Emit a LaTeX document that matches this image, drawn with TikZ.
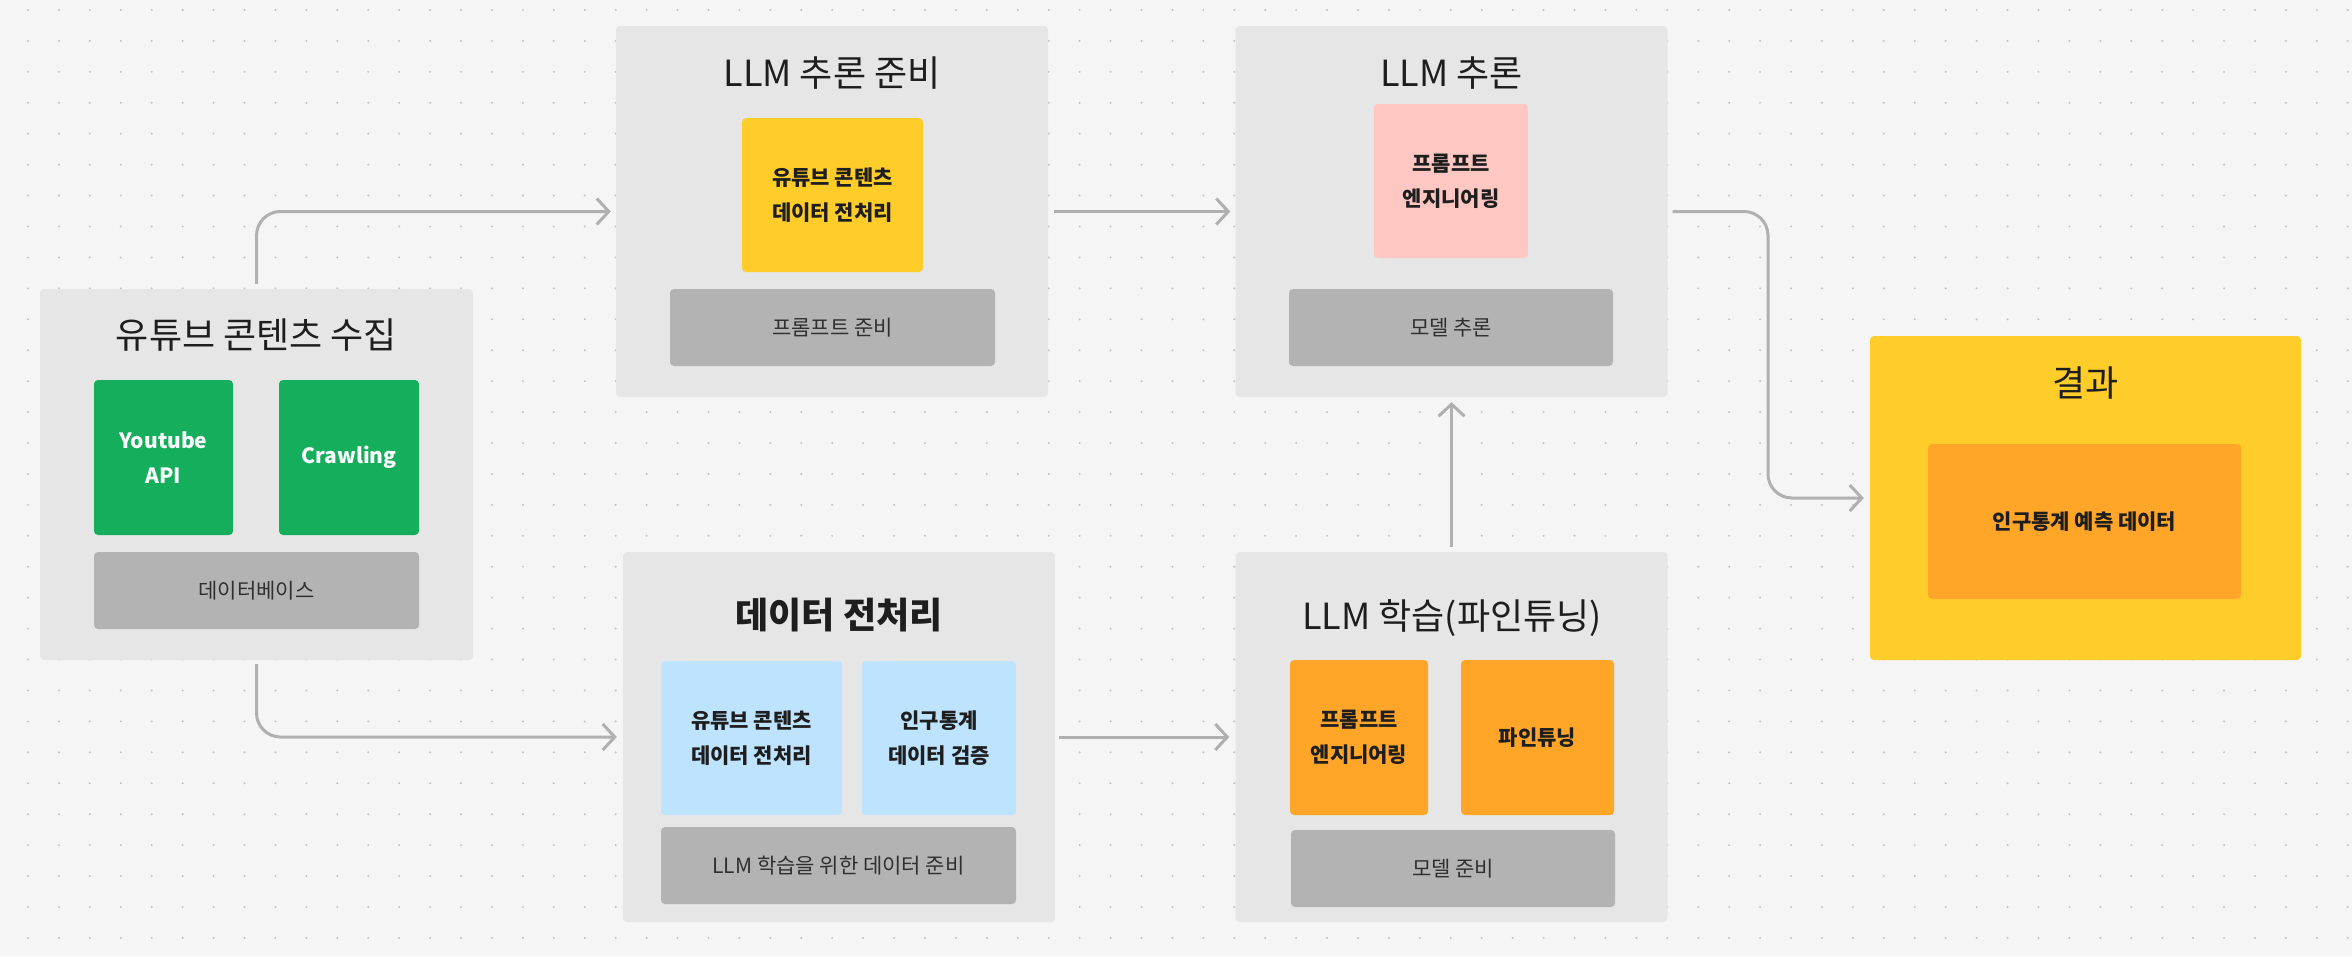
\documentclass[tikz,border=0pt]{standalone}
\usepackage{fontspec}
\setmainfont{Noto Sans CJK KR}
\usepackage{xcolor}
\usepackage{tikz}
\usetikzlibrary{arrows.meta}
\definecolor{canvas}{HTML}{F5F5F5}
\definecolor{dot}{HTML}{C2C2C2}
\definecolor{panel}{HTML}{E6E6E6}
\definecolor{base}{HTML}{B3B3B3}
\definecolor{wire}{HTML}{B0B0B0}
\definecolor{ink}{HTML}{1E1E1E}
\definecolor{leaf}{HTML}{14AE5C}
\definecolor{sun}{HTML}{FFCD29}
\definecolor{rose}{HTML}{FFC7C2}
\definecolor{sky}{HTML}{BDE3FF}
\definecolor{amber}{HTML}{FFA629}
\tikzset{
  flowGroup/.style={fill=panel, rounded corners=4pt, inner sep=0pt},
  flowCard/.style={rounded corners=4pt, inner sep=0pt, align=center, text=ink, font=\fontsize{21}{35}\selectfont\bfseries},
  flowBase/.style={fill=base, rounded corners=4pt, inner sep=0pt, text=ink!92, font=\fontsize{21}{26}\selectfont},
  flowTitle/.style={text=ink, font=\fontsize{36}{44}\selectfont},
  flowArrow/.style={draw=wire, line width=3pt, rounded corners=24pt, -{Straight Barb[length=12pt,width=26pt]}}
}

\begin{document}
\begin{tikzpicture}[x=1pt, y=-1pt]
  \useasboundingbox (0,0) rectangle (2352,956);
  \fill[canvas] (0,0) rectangle (2352,956);
  \foreach \i in {0,...,75}
    \foreach \j in {0,...,30}
      \fill[dot] (28+30.93*\i, 10+30.93*\j) circle (1.1pt);

  \node[flowGroup, minimum width=433pt, minimum height=371pt] (collect) at (256.5,474.5) {};
  \node[flowTitle] (collectTitle) at (256.5,335) {유튜브 콘텐츠 수집};
  \node[flowCard, fill=leaf, text=white, minimum width=139pt, minimum height=155pt] (ytApi) at (163.5,457.5) {Youtube\\API};
  \node[flowCard, fill=leaf, text=white, minimum width=140pt, minimum height=155pt] (crawl) at (349,457.5) {Crawling};
  \node[flowBase, minimum width=325pt, minimum height=77pt] (dbase) at (256.5,590.5) {데이터베이스};

  \node[flowGroup, minimum width=432pt, minimum height=371pt] (prep) at (832,211.5) {};
  \node[flowTitle] (prepTitle) at (832,73) {LLM 추론 준비};
  \node[flowCard, fill=sun, minimum width=181pt, minimum height=154pt] (prepYt) at (832.5,195) {유튜브 콘텐츠\\데이터 전처리};
  \node[flowBase, minimum width=325pt, minimum height=77pt] (prepBase) at (832.5,327.5) {프롬프트 준비};

  \node[flowGroup, minimum width=432pt, minimum height=371pt] (infer) at (1451.5,211.5) {};
  \node[flowTitle] (inferTitle) at (1451.5,73) {LLM 추론};
  \node[flowCard, fill=rose, minimum width=154pt, minimum height=154pt] (inferPrompt) at (1451,181) {프롬프트\\엔지니어링};
  \node[flowBase, minimum width=324pt, minimum height=77pt] (inferBase) at (1451,327.5) {모델 추론};

  \node[flowGroup, minimum width=432pt, minimum height=370pt] (clean) at (839,737) {};
  \node[flowTitle, font=\fontsize{36}{44}\selectfont\bfseries] (cleanTitle) at (839,615) {데이터 전처리};
  \node[flowCard, fill=sky, minimum width=181pt, minimum height=154pt] (cleanYt) at (751.5,738) {유튜브 콘텐츠\\데이터 전처리};
  \node[flowCard, fill=sky, minimum width=154pt, minimum height=154pt] (cleanCensus) at (939,738) {인구통계\\데이터 검증};
  \node[flowBase, minimum width=355pt, minimum height=77pt] (cleanBase) at (838.5,865.5) {LLM 학습을 위한 데이터 준비};

  \node[flowGroup, minimum width=432pt, minimum height=370pt] (train) at (1451.5,737) {};
  \node[flowTitle] (trainTitle) at (1452,618) {LLM 학습(파인튜닝)};
  \node[flowCard, fill=amber, minimum width=138pt, minimum height=155pt] (trainPrompt) at (1359,737.5) {프롬프트\\엔지니어링};
  \node[flowCard, fill=amber, minimum width=153pt, minimum height=155pt] (trainTune) at (1537.5,737.5) {파인튜닝};
  \node[flowBase, minimum width=324pt, minimum height=77pt] (trainBase) at (1453,868.5) {모델 준비};

  \node[flowGroup, fill=sun, minimum width=431pt, minimum height=324pt] (result) at (2085.5,498) {};
  \node[flowTitle] (resultTitle) at (2085.5,383) {결과};
  \node[flowCard, fill=amber, minimum width=313pt, minimum height=155pt] (resultData) at (2084.5,521.5) {인구통계 예측 데이터};

  \coordinate (turn) at (1768,211.5);
  \draw[flowArrow] ([yshift=5pt]collect.north) |- ([xshift=-5pt]prep.west);
  \draw[flowArrow] ([yshift=-4pt]collect.south) |- ([xshift=-6pt]clean.west);
  \draw[flowArrow] ([xshift=6pt]prep.east) -- ([xshift=-5pt]infer.west);
  \draw[flowArrow] ([xshift=4pt]clean.east) -- ([xshift=-6pt]train.west);
  \draw[flowArrow] ([yshift=5pt]train.north) -- ([yshift=-5pt]infer.south);
  \draw[flowArrow] ([xshift=5pt]infer.east) -- (turn) |- ([xshift=-6pt]result.west);
\end{tikzpicture}
\end{document}
